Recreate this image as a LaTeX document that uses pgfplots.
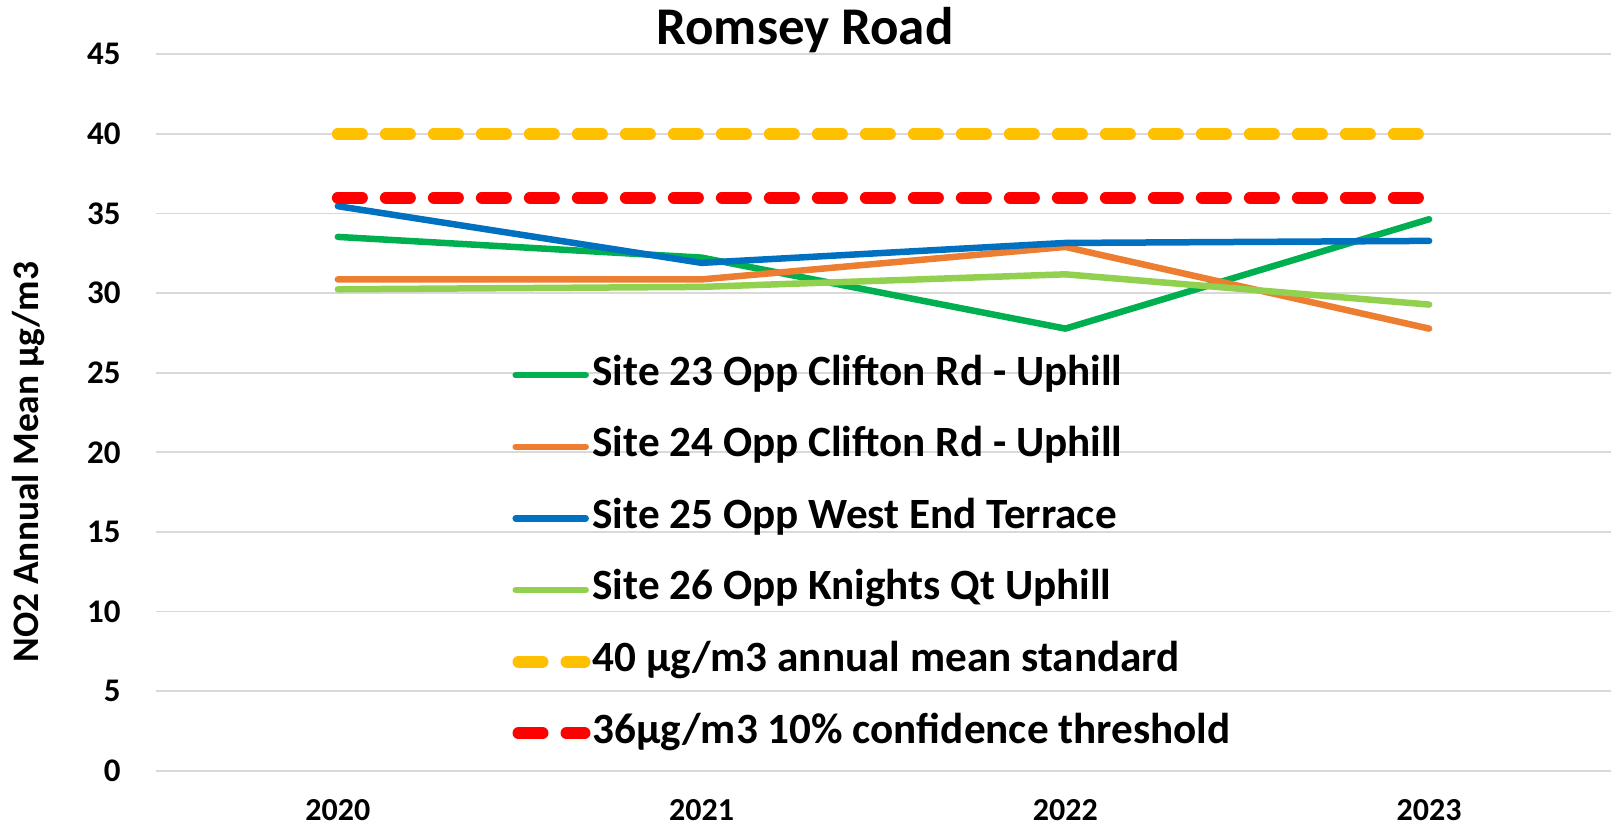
\documentclass[border=0pt]{standalone}
\usepackage{pgfplots}
\pgfplotsset{compat=1.18}
\usepackage{fontspec}
\setmainfont{Carlito}
\definecolor{cA}{HTML}{00B050}
\definecolor{cB}{HTML}{ED7D31}
\definecolor{cC}{HTML}{0070C0}
\definecolor{cD}{HTML}{92D050}
\definecolor{cE}{HTML}{FFC000}
\definecolor{cF}{HTML}{FF0000}
\definecolor{gridc}{HTML}{D9D9D9}
\pgfplotsset{dashleg/.style={legend image code/.code={\draw[##1] (3pt,0pt) -- (36pt,0pt); \path[draw=none,fill=none] (0pt,0pt) (38.2pt,0pt);}}}
\begin{document}
\begin{tikzpicture}
\useasboundingbox (0,0) rectangle (805.5pt,413pt);
\begin{axis}[
  at={(78pt,27.65pt)}, anchor=south west,
  scale only axis, width=727.5pt, height=358.2pt,
  xmin=-0.5, xmax=3.5, ymin=0, ymax=45,
  xtick={0,1,2,3}, xticklabels={2020,2021,2022,2023},
  ytick={0,5,...,45},
  axis line style={draw=none}, major tick length=0pt,
  ymajorgrids, grid style={color=gridc, line width=0.9pt},
  /pgf/number format/assume math mode=true,
  yticklabel style={font=\bfseries\fontsize{16.5}{16.5}\selectfont, anchor=east, inner sep=0pt, xshift=-17.5pt},
  xticklabel style={font=\bfseries\fontsize{16}{16}\selectfont, anchor=north, inner sep=0pt, yshift=-14.8pt, text height=10pt, text depth=0pt},
  ylabel={NO2 Annual Mean µg/m3},
  ylabel style={font=\bfseries\fontsize{18.7}{18.7}\selectfont, at={(axis description cs:-0.0806,0.431)}, anchor=base, inner sep=0pt},
  title={Romsey Road},
  title style={font=\bfseries\fontsize{26.5}{26.5}\selectfont, at={(axis description cs:0.446,1)}, anchor=base, inner sep=0pt, yshift=-1.2pt},
  legend style={at={(rel axis cs:0.2447,0.5806)}, anchor=north west, draw=none, fill=none,
    font=\bfseries\fontsize{21.6}{21.6}\selectfont, row sep=15.8pt, column sep=1pt, inner sep=0pt,
    nodes={inner sep=0pt, text height=15pt, text depth=5pt}},
  legend cell align=left,
  legend image code/.code={\draw[#1] (1.6pt,0pt) -- (36.6pt,0pt); \path[draw=none,fill=none] (0pt,0pt) (38.2pt,0pt);},
  every axis plot/.append style={line width=3.25pt, line cap=round, line join=round},
]
\addplot[color=cA] coordinates {(0,33.53) (1,32.23) (2,27.77) (3,34.64)};
\addlegendentry{Site 23 Opp Clifton Rd - Uphill}
\addplot[color=cB] coordinates {(0,30.86) (1,30.86) (2,32.90) (3,27.77)};
\addlegendentry{Site 24 Opp Clifton Rd - Uphill}
\addplot[color=cC] coordinates {(0,35.46) (1,31.90) (2,33.15) (3,33.28)};
\addlegendentry{Site 25 Opp West End Terrace}
\addplot[color=cD] coordinates {(0,30.24) (1,30.39) (2,31.18) (3,29.28)};
\addlegendentry{Site 26 Opp Knights Qt Uphill}
\addplot[color=cE, line width=6pt, dash pattern=on 12pt off 12pt, dashleg]
  coordinates {(0,40) (1,40) (2,40) (3,40)};
\addlegendentry{40 µg/m3 annual mean standard}
\addplot[color=cF, line width=6pt, dash pattern=on 12pt off 12pt, dashleg]
  coordinates {(0,36) (1,36) (2,36) (3,36)};
\addlegendentry{36µg/m3 10\% confidence threshold}
\end{axis}
\end{tikzpicture}
\end{document}
